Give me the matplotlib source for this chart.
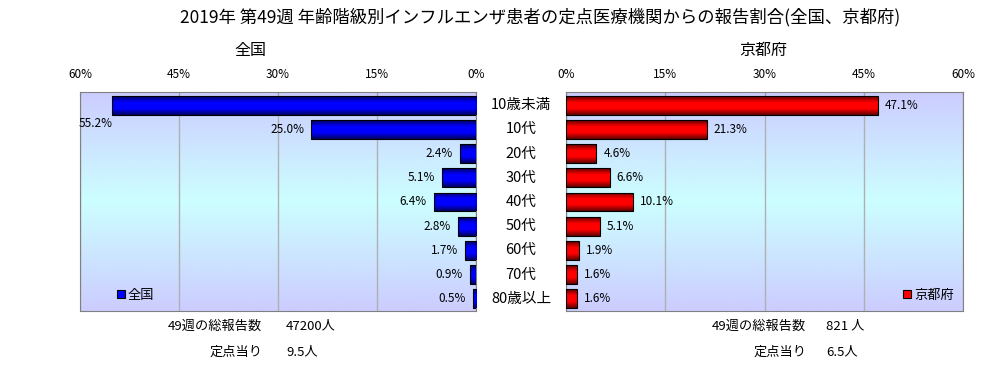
import numpy as np
import matplotlib.pyplot as plt
import matplotlib.transforms as mtransforms
from matplotlib.colors import LinearSegmentedColormap

plt.rcParams['font.family'] = ['Noto Sans CJK JP', 'DejaVu Sans']

ages = ["10歳未満", "10代", "20代", "30代", "40代", "50代", "60代", "70代", "80歳以上"]
zenkoku = [55.2, 25.0, 2.4, 5.1, 6.4, 2.8, 1.7, 0.9, 0.5]
kyoto = [47.1, 21.3, 4.6, 6.6, 10.1, 5.1, 1.9, 1.6, 1.6]
ticks = [0, 15, 30, 45, 60]
title = "2019年 第49週 年齢階級別インフルエンザ患者の定点医療機関からの報告割合(全国、京都府)"
info_left = [("49週の総報告数", "47200人"), ("定点当り", "9.5人")]
info_right = [("49週の総報告数", "821 人"), ("定点当り", "6.5人")]

bg_cmap = LinearSegmentedColormap.from_list("bg", ["#ccccff", "#ccffff", "#ccccff"])
blue_cmap = LinearSegmentedColormap.from_list("bl", ["#000060", "#0000ff", "#0000ff", "#000060"])
red_cmap = LinearSegmentedColormap.from_list("rd", ["#600000", "#ff0000", "#ff0000", "#600000"])


def draw_panel(ax, values, cmap, edge_color, label, left_side):
    y = np.arange(len(values))
    # background gradient
    grad = np.linspace(0, 1, 256).reshape(-1, 1)
    ax.imshow(grad, aspect="auto", cmap=bg_cmap, extent=[0, 1, 0, 1],
              transform=ax.transAxes, zorder=0)
    bars = ax.barh(y, values, height=0.78, color=edge_color, edgecolor="black",
                   linewidth=0.8, zorder=3, label=label)
    g = np.linspace(0, 1, 64).reshape(-1, 1)
    for b in bars:
        x0, y0 = b.get_x(), b.get_y()
        im = ax.imshow(g, aspect="auto", cmap=cmap,
                       extent=[x0, x0 + b.get_width(), y0 + b.get_height(), y0],
                       zorder=3.5)
        im.set_clip_path(b)
    for b in bars:
        b.set_facecolor("none")
        b.set_zorder(4)

    ax.set_xlim(60, 0) if left_side else ax.set_xlim(0, 60)
    ax.set_ylim(8.5, -0.54)
    ax.set_xticks(ticks)
    ax.set_xticklabels([f"{t}%" for t in ticks], fontsize=8.5)
    ax.xaxis.tick_top()
    ax.tick_params(axis="x", length=3, direction="in", color="#a0a0a0", pad=8)
    ax.set_yticks([])
    ax.grid(axis="x", color="#b0b0b0", linewidth=1, zorder=1)
    for s in ax.spines.values():
        s.set_color("#808080")

    for i, v in enumerate(values):
        if left_side:
            if i == 0:
                ax.annotate(f"{v:.1f}%", (v, i + 0.78), xytext=(1, 0), textcoords="offset points",
                            ha="right", va="center", fontsize=8.5, zorder=5)
            else:
                ax.annotate(f"{v:.1f}%", (v, i), xytext=(-5, 0), textcoords="offset points",
                            ha="right", va="center", fontsize=8.5, zorder=5)
        else:
            ax.annotate(f"{v:.1f}%", (v, i), xytext=(5, 0), textcoords="offset points",
                        ha="left", va="center", fontsize=8.5, zorder=5)

    leg = ax.legend(loc="lower left" if left_side else "lower right", frameon=False,
                    handlelength=0.6, handleheight=0.6, handletextpad=0.2,
                    fontsize=9.5, borderaxespad=0.3,
                    bbox_to_anchor=(0.07, 0.0) if left_side else (1.0, 0.0))
    for h in leg.legend_handles:
        h.set_facecolor(edge_color)
        h.set_edgecolor("black")


fig = plt.figure(figsize=(10.06, 3.65), dpi=100)
ax_l = fig.add_axes([80 / 1006, 1 - 311 / 365, 396 / 1006, 219 / 365])
ax_r = fig.add_axes([566 / 1006, 1 - 311 / 365, 397 / 1006, 219 / 365])

draw_panel(ax_l, zenkoku, blue_cmap, "#0000ff", "全国", True)
draw_panel(ax_r, kyoto, red_cmap, "#ff0000", "京都府", False)

# category labels between the panels
mid = mtransforms.blended_transform_factory(fig.transFigure, ax_l.transData)
for i, a in enumerate(ages):
    fig.text(521 / 1006, i, a, transform=mid, ha="center", va="center", fontsize=10.5)

fig.text(540 / 1006, 1 - 17 / 365, title, ha="center", va="center", fontsize=12.5)
fig.text(250 / 1006, 1 - 50 / 365, "全国", ha="center", va="center", fontsize=11.5)
fig.text(763 / 1006, 1 - 50 / 365, "京都府", ha="center", va="center", fontsize=11.5)

for j, (k, v) in enumerate(info_left):
    yy = 1 - (326 + 26 * j) / 365
    fig.text(262 / 1006, yy, k, ha="right", va="center", fontsize=9.5)
    fig.text(286 / 1006, yy, v, ha="left", va="center", fontsize=9.5)
for j, (k, v) in enumerate(info_right):
    yy = 1 - (326 + 26 * j) / 365
    fig.text(806 / 1006, yy, k, ha="right", va="center", fontsize=9.5)
    fig.text(826 / 1006, yy, v, ha="left", va="center", fontsize=9.5)

fig.savefig("out.png", dpi=100)
